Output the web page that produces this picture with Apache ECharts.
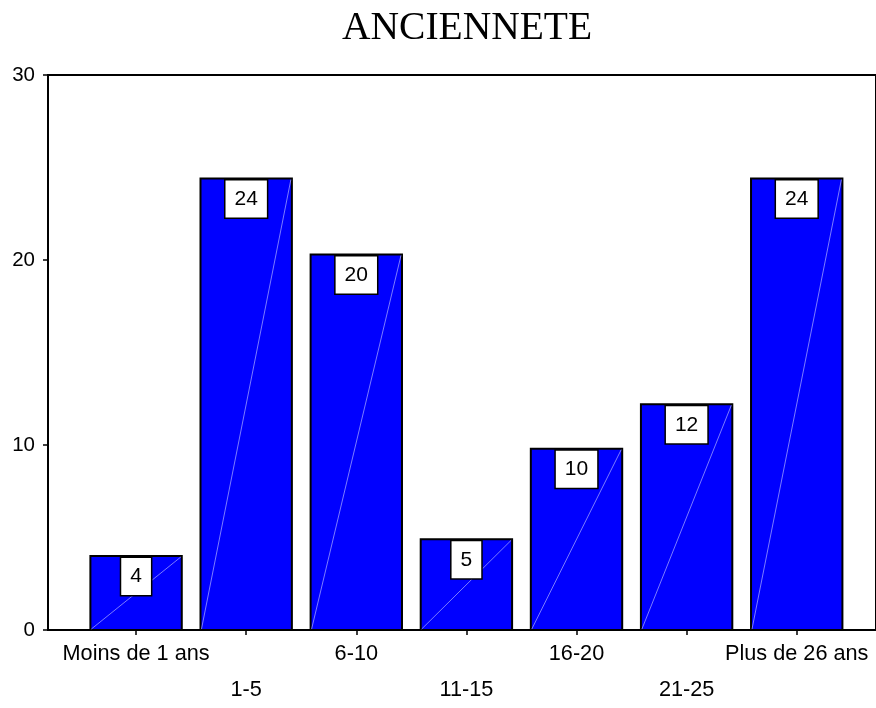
<!DOCTYPE html>
<html>
<head>
<meta charset="utf-8">
<title>ANCIENNETE</title>
<script src="https://cdn.jsdelivr.net/npm/echarts@6/dist/echarts.min.js"></script>
<style>
  html, body { margin: 0; padding: 0; background: #ffffff; }
  #chart { width: 876px; height: 708px; }
</style>
</head>
<body>
<div id="chart"></div>
<script>
// Seniority bands and share of staff in each (percent)
const categories = ['Moins de 1 ans', '1-5', '6-10', '11-15', '16-20', '21-25', 'Plus de 26 ans'];
const shares = [4.0, 24.4, 20.3, 4.9, 9.8, 12.2, 24.4];
const yTicks = { min: 0, max: 30, interval: 10 };
const categoryIndex = categories.map((_, i) => i);

const BAR_SPAN = 0.83;          // bar width, in category units
const FONT = '"Liberation Sans", Arial, sans-serif';

const chart = echarts.init(document.getElementById('chart'), null, { renderer: 'canvas' });

function renderBar(params, api) {
  const idx = api.value(0);
  const val = api.value(1);
  const base = api.coord([idx, 0]);
  const top = api.coord([idx, val]);
  const w = api.size([BAR_SPAN, 0])[0];
  const x0 = base[0] - w / 2;
  const x1 = base[0] + w / 2;
  return {
    type: 'group',
    children: [
      {
        type: 'rect',
        shape: { x: x0, y: top[1], width: w, height: base[1] - top[1] },
        style: { fill: '#0000ff', stroke: '#000000', lineWidth: 2 }
      },
      {
        // faint highlight running corner to corner across each bar
        type: 'line',
        shape: { x1: x0 + 1, y1: base[1] - 1, x2: x1 - 1, y2: top[1] + 1 },
        style: { stroke: 'rgba(175,175,255,0.7)', lineWidth: 1 }
      },
      {
        type: 'text',
        x: base[0],
        y: top[1] + 2,
        style: {
          text: String(Math.round(val)),
          align: 'center',
          verticalAlign: 'top',
          font: '21px ' + FONT,
          fill: '#000000',
          backgroundColor: '#ffffff',
          borderColor: '#000000',
          borderWidth: 1.5,
          padding: [8, 9, 8, 9],
          lineHeight: 21
        }
      }
    ]
  };
}

chart.setOption({
  animation: false,
  backgroundColor: '#ffffff',
  title: {
    text: 'ANCIENNETE',
    left: 337,
    top: 4,
    textStyle: {
      fontFamily: '"Liberation Serif", "Times New Roman", serif',
      fontSize: 39.5,
      fontWeight: 'normal',
      color: '#000000'
    }
  },
  grid: {
    left: 48,
    top: 75,
    right: -2,
    bottom: 71,
    show: true,
    borderColor: '#000000',
    borderWidth: 2,
    backgroundColor: 'transparent'
  },
  xAxis: {
    type: 'value',
    min: -0.8,
    max: 6.72,
    splitLine: { show: false },
    axisLine: { show: true, onZero: false, lineStyle: { color: '#000000', width: 2 } },
    axisTick: {
      show: true,
      customValues: categoryIndex,
      length: 5,
      lineStyle: { color: '#000000', width: 1.5 }
    },
    axisLabel: {
      customValues: categoryIndex,
      margin: 6,
      color: '#000000',
      fontFamily: FONT,
      fontSize: 21.7,
      lineHeight: 36,
      formatter: function (value) {
        const i = Math.round(value);
        return i % 2 === 1 ? '\n' + categories[i] : categories[i];
      }
    }
  },
  yAxis: {
    type: 'value',
    min: yTicks.min,
    max: yTicks.max,
    interval: yTicks.interval,
    splitLine: { show: false },
    axisLine: { show: true, onZero: false, lineStyle: { color: '#000000', width: 2 } },
    axisTick: { show: true, length: 5, lineStyle: { color: '#000000', width: 1.5 } },
    axisLabel: {
      margin: 13,
      color: '#000000',
      fontFamily: FONT,
      fontSize: 20.5
    }
  },
  series: [
    {
      type: 'custom',
      name: 'ANCIENNETE',
      clip: false,
      renderItem: renderBar,
      encode: { x: 0, y: 1 },
      data: shares.map((v, i) => [i, v])
    }
  ]
});
</script>
</body>
</html>
